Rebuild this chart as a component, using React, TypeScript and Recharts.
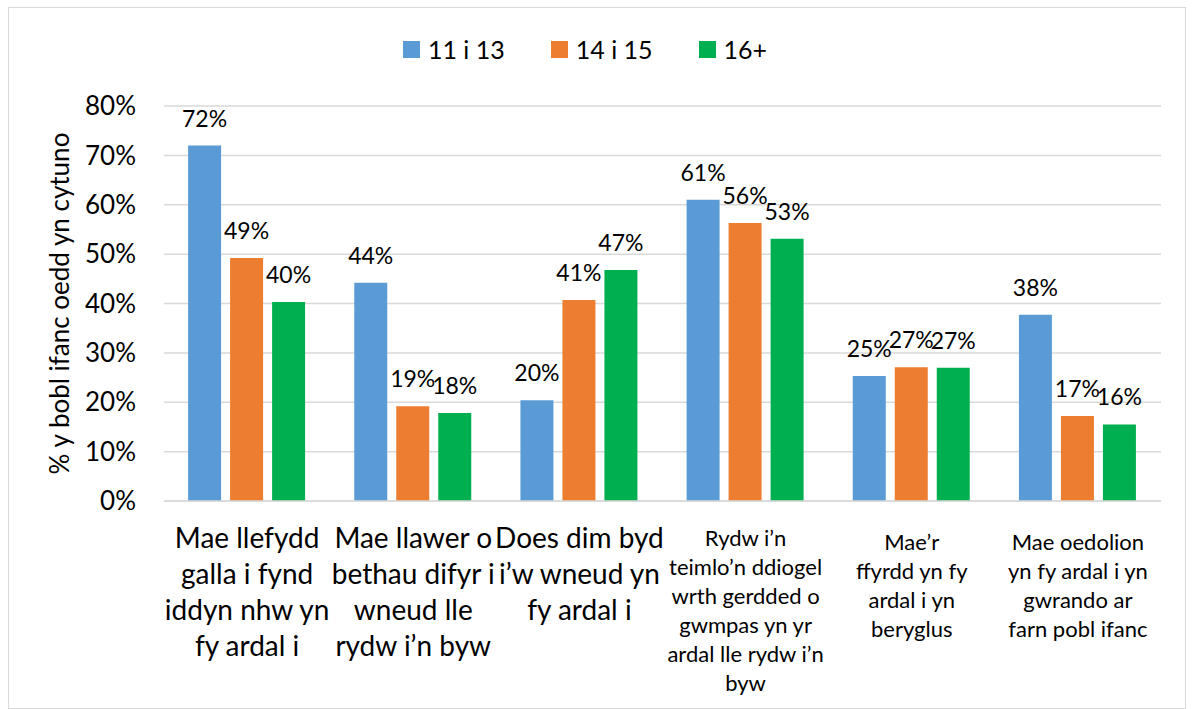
import { BarChart, Bar, XAxis, YAxis, CartesianGrid, Legend, LabelList } from "recharts";

const categories = [
	["Mae llefydd", "galla i fynd", "iddyn nhw yn", "fy ardal i"],
	["Mae llawer o", "bethau difyr i", "wneud lle", "rydw i’n byw"],
	["Does dim byd", "i’w wneud yn", "fy ardal i"],
	["Rydw i’n", "teimlo’n ddiogel", "wrth gerdded o", "gwmpas yn yr", "ardal lle rydw i’n", "byw"],
	["Mae’r", "ffyrdd yn fy", "ardal i yn", "beryglus"],
	["Mae oedolion", "yn fy ardal i yn", "gwrando ar", "farn pobl ifanc"],
];
const age11to13 = [72, 44.2, 20.4, 61, 25.3, 37.7];
const age14to15 = [49.2, 19.2, 40.7, 56.3, 27.1, 17.2];
const age16plus = [40.3, 17.8, 46.8, 53.1, 27, 15.5];
const yTicks = [0, 10, 20, 30, 40, 50, 60, 70, 80];

const SERIES = [
	{ key: "a", name: "11 i 13", color: "#5b9bd5" },
	{ key: "b", name: "14 i 15", color: "#ed7d31" },
	{ key: "c", name: "16+", color: "#00b050" },
];

const FONT = "Lato, 'Open Sans', sans-serif";

const data = categories.map((lines, i) => ({
	idx: i,
	a: age11to13[i],
	b: age14to15[i],
	c: age16plus[i],
}));

function CategoryTick({ x, y, payload }: any) {
	const i = payload.value as number;
	const lines = categories[i];
	const big = i < 3;
	const fs = big ? 28 : 22;
	const lh = big ? 36 : 29;
	const start = big ? 39 : i === 3 ? 37 : 41;
	return (
		<text x={x} y={y} textAnchor="middle" fontSize={fs} fill="#000" fontFamily={FONT}>
			{lines.map((l, k) => (
				<tspan key={k} x={x} y={y + start + k * lh}>
					{l}
				</tspan>
			))}
		</text>
	);
}

function LegendBox() {
	return (
		<div style={{ display: "flex", justifyContent: "center", alignItems: "center", height: 30, gap: 46, fontFamily: FONT, fontSize: 25 }}>
			{SERIES.map((s) => (
				<div key={s.key} style={{ display: "flex", alignItems: "center" }}>
					<span style={{ width: 17, height: 17, background: s.color, display: "inline-block", marginRight: 8 }} />
					<span>{s.name}</span>
				</div>
			))}
		</div>
	);
}

export default function App() {
	return (
		<div style={{ position: "absolute", left: 8, top: 7, width: 1176, height: 700, border: "1px solid #d9d9d9", background: "#fff" }}>
			<BarChart
				width={1176}
				height={693}
				data={data}
				margin={{ top: 68, right: 24, left: 0, bottom: 0 }}
				barCategoryGap="14.5%"
				barGap={9}
			>
				<CartesianGrid vertical={false} stroke="#d9d9d9" strokeWidth={1.5} />
				<XAxis
					dataKey="idx"
					height={200}
					axisLine={{ stroke: "#d9d9d9", strokeWidth: 1.5 }}
					tickLine={false}
					interval={0}
					tick={<CategoryTick />}
				/>
				<YAxis
					width={155}
					domain={[0, 80]}
					ticks={yTicks}
					axisLine={false}
					tickLine={false}
					tickSize={0}
					tickMargin={28}
					tickFormatter={(v) => `${v}%`}
					tick={{ fontSize: 26, fill: "#000", fontFamily: FONT }}
					label={{
						value: "% y bobl ifanc oedd yn cytuno",
						angle: -90,
						position: "insideLeft",
						dx: 46,
						dy: 0,
						style: { textAnchor: "middle", fontSize: 26, fill: "#000", fontFamily: FONT },
					}}
				/>
				<Legend verticalAlign="top" content={<LegendBox />} wrapperStyle={{ top: 26 }} />
				{SERIES.map((s) => (
					<Bar key={s.key} dataKey={s.key} name={s.name} fill={s.color} isAnimationActive={false}>
						<LabelList
							dataKey={s.key}
							position="top"
							offset={19}
							formatter={(v: any) => `${Math.round(v)}%`}
							style={{ fontSize: 23, fill: "#000", fontFamily: FONT }}
						/>
					</Bar>
				))}
			</BarChart>
		</div>
	);
}
